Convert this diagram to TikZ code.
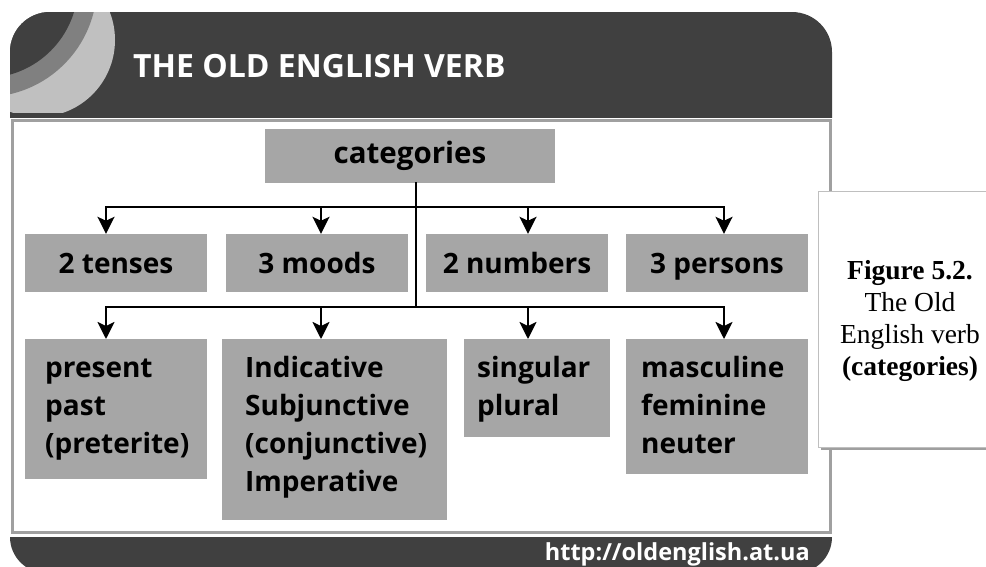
\documentclass[tikz,border=0pt]{standalone}
\usepackage{fontspec}
\setmainfont{Liberation Serif}
\setsansfont{Open Sans}
\usetikzlibrary{arrows.meta}
\definecolor{bar}{RGB}{64,64,64}
\definecolor{boxgray}{RGB}{166,166,166}
\definecolor{bandmid}{RGB}{128,128,128}
\definecolor{bandlight}{RGB}{192,192,192}
\definecolor{framegray}{RGB}{160,160,160}

\begin{document}
\begin{tikzpicture}[x=1pt,y=-1pt,
    box/.style={fill=boxgray, inner sep=0pt, font=\sffamily\bfseries\fontsize{28}{34}\selectfont},
    mid/.style={box, minimum width=182pt, minimum height=58pt, text height=20pt, text depth=0pt},
    leaf/.style={fill=boxgray, anchor=north west, inner sep=0pt},
    leaftext/.style={anchor=base west, align=left, inner sep=0pt, font=\sffamily\bfseries\fontsize{28}{38}\selectfont},
    link/.style={line width=2.6pt, line cap=rect},
    arr/.style={line width=2.6pt, -{Stealth[length=17pt,width=17pt,inset=4pt]}}]
    \useasboundingbox (0,0) rectangle (986,566);
    % title bar, three bands in the left corner
    \begin{scope}
        \clip (0,0) rectangle (986,117);
        \fill[bar, rounded corners=40pt] (10,12) rectangle (832,200);
        \clip[rounded corners=40pt] (10,12) rectangle (832,200);
        \clip (0,0) rectangle (986,112);
        \fill[bandlight] (38,40) circle (77);
        \fill[bandmid] (-15,-15) circle (112);
        \fill[bar] (-15,-15) circle (93);
    \end{scope}
    \node[anchor=base west, text=white, inner sep=0pt, font=\sffamily\bfseries\fontsize{32}{38}\selectfont] (title) at (133,77) {THE OLD ENGLISH VERB};

    % frame
    \draw[framegray, line width=3pt] (12,120) rectangle (830,532);

    % bottom bar
    \begin{scope}
        \clip (0,537) rectangle (986,566);
        \fill[bar, rounded corners=36pt] (10,480) rectangle (832,573);
    \end{scope}
    \node[anchor=base east, text=white, inner sep=0pt, font=\sffamily\bfseries\fontsize{23.5}{28}\selectfont] (url) at (810,560) {http://oldenglish.at.ua};

    % caption on the right (base = last line)
    \fill[gray!75] (821,194) rectangle (1000,450);
    \filldraw[fill=white, draw=gray!50, line width=1pt] (818,191) rectangle (1000,447);
    \node[align=center, anchor=base, inner sep=0pt, font=\fontsize{27.5}{32}\selectfont] (capt) at (910,375) {\textbf{Figure 5.2.}\\The Old\\English verb\\\textbf{(categories)}};

    % boxes
    \node[box, minimum width=290pt, minimum height=54pt, font=\sffamily\bfseries\fontsize{29.5}{34}\selectfont] (cat) at (410,156) {categories};
    \node[mid] (tens) at (116,263) {2 tenses};
    \node[mid] (mood) at (317,263) {3 moods};
    \node[mid] (numb) at (517,263) {2 numbers};
    \node[mid] (pers) at (717,263) {3 persons};

    \node[leaf, minimum width=182pt, minimum height=140pt] (tlist) at (25,339) {};
    \node[leaf, minimum width=225pt, minimum height=181pt] (mlist) at (222,339) {};
    \node[leaf, minimum width=146pt, minimum height=98pt] (nlist) at (464,339) {};
    \node[leaf, minimum width=182pt, minimum height=135pt] (plist) at (626,339) {};
    % lines are 38pt apart, anchored on the last one
    \node[leaftext] (ttext) at ([shift={(20pt,-114pt)}]tlist.north west) {present\\past\\(preterite)};
    \node[leaftext] (mtext) at ([shift={(23pt,-152pt)}]mlist.north west) {Indicative\\Subjunctive\\(conjunctive)\\Imperative};
    \node[leaftext] (ntext) at ([shift={(13pt,-76pt)}]nlist.north west) {singular\\plural};
    \node[leaftext] (ptext) at ([shift={(15pt,-114pt)}]plist.north west) {masculine\\feminine\\neuter};

    % connectors
    \coordinate (j1) at (416,207);
    \coordinate (j2) at (416,307);
    \foreach \n/\x in {1/106,2/321,3/528,4/724} {
        \coordinate (a\n) at (\x,207);
        \coordinate (b\n) at (\x,307);
    }
    \draw[link] (cat.south -| j1) -- (j2);
    \draw[link] (a1) -- (a4);
    \draw[link] (b1) -- (b4);
    \foreach \n/\m/\l in {1/tens/tlist,2/mood/mlist,3/numb/nlist,4/pers/plist} {
        \draw[arr] (a\n) -- (a\n |- \m.north);
        \draw[arr] (b\n) -- (b\n |- \l.north);
    }
\end{tikzpicture}
\end{document}
